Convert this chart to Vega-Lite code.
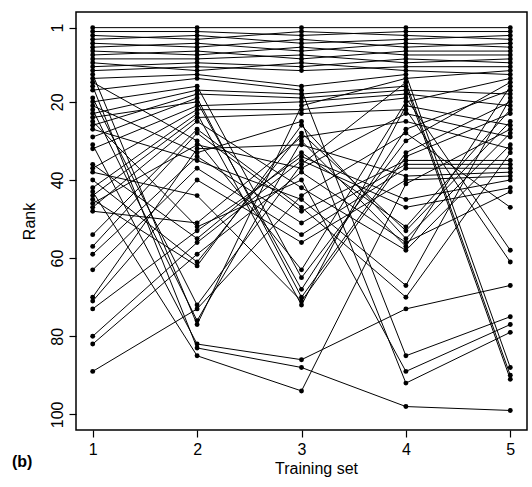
{
  "$schema": "https://vega.github.io/schema/vega-lite/v6.json",
  "width": 451,
  "height": 418,
  "autosize": {"type": "none"},
  "padding": {"left": 76, "top": 12, "right": 5, "bottom": 57},
  "background": "white",
  "config": {
    "view": {"stroke": "black", "strokeWidth": 1.5},
    "font": "Liberation Sans"
  },
  "title": {
    "text": "(b)",
    "orient": "bottom",
    "anchor": "start",
    "frame": "group",
    "fontWeight": "bold",
    "fontSize": 16,
    "font": "Liberation Sans",
    "color": "black",
    "dx": -64,
    "dy": -26
  },
  "data": {
    "values": [
      {"item":1,"set":1,"rank":1},{"item":1,"set":2,"rank":1},{"item":1,"set":3,"rank":1},{"item":1,"set":4,"rank":1},{"item":1,"set":5,"rank":1},
      {"item":2,"set":1,"rank":2},{"item":2,"set":2,"rank":2},{"item":2,"set":3,"rank":3},{"item":2,"set":4,"rank":2},{"item":2,"set":5,"rank":2},
      {"item":3,"set":1,"rank":3},{"item":3,"set":2,"rank":4},{"item":3,"set":3,"rank":2},{"item":3,"set":4,"rank":3},{"item":3,"set":5,"rank":4},
      {"item":4,"set":1,"rank":4},{"item":4,"set":2,"rank":3},{"item":4,"set":3,"rank":5},{"item":4,"set":4,"rank":4},{"item":4,"set":5,"rank":3},
      {"item":5,"set":1,"rank":5},{"item":5,"set":2,"rank":6},{"item":5,"set":3,"rank":4},{"item":5,"set":4,"rank":6},{"item":5,"set":5,"rank":5},
      {"item":6,"set":1,"rank":6},{"item":6,"set":2,"rank":5},{"item":6,"set":3,"rank":7},{"item":6,"set":4,"rank":5},{"item":6,"set":5,"rank":6},
      {"item":7,"set":1,"rank":7},{"item":7,"set":2,"rank":8},{"item":7,"set":3,"rank":6},{"item":7,"set":4,"rank":8},{"item":7,"set":5,"rank":8},
      {"item":8,"set":1,"rank":8},{"item":8,"set":2,"rank":7},{"item":8,"set":3,"rank":9},{"item":8,"set":4,"rank":7},{"item":8,"set":5,"rank":7},
      {"item":9,"set":1,"rank":9},{"item":9,"set":2,"rank":9},{"item":9,"set":3,"rank":8},{"item":9,"set":4,"rank":10},{"item":9,"set":5,"rank":9},
      {"item":10,"set":1,"rank":11},{"item":10,"set":2,"rank":10},{"item":10,"set":3,"rank":11},{"item":10,"set":4,"rank":9},{"item":10,"set":5,"rank":10},
      {"item":11,"set":1,"rank":10},{"item":11,"set":2,"rank":12},{"item":11,"set":3,"rank":10},{"item":11,"set":4,"rank":12},{"item":11,"set":5,"rank":13},
      {"item":12,"set":1,"rank":12},{"item":12,"set":2,"rank":11},{"item":12,"set":3,"rank":12},{"item":12,"set":4,"rank":11},{"item":12,"set":5,"rank":11},
      {"item":13,"set":1,"rank":13},{"item":13,"set":2,"rank":77},{"item":13,"set":3,"rank":21},{"item":13,"set":4,"rank":14},{"item":13,"set":5,"rank":12},
      {"item":14,"set":1,"rank":14},{"item":14,"set":2,"rank":13},{"item":14,"set":3,"rank":16},{"item":14,"set":4,"rank":13},{"item":14,"set":5,"rank":88},
      {"item":15,"set":1,"rank":15},{"item":15,"set":2,"rank":30},{"item":15,"set":3,"rank":63},{"item":15,"set":4,"rank":20},{"item":15,"set":5,"rank":14},
      {"item":16,"set":1,"rank":16},{"item":16,"set":2,"rank":83},{"item":16,"set":3,"rank":88},{"item":16,"set":4,"rank":98},{"item":16,"set":5,"rank":99},
      {"item":17,"set":1,"rank":17},{"item":17,"set":2,"rank":14},{"item":17,"set":3,"rank":17},{"item":17,"set":4,"rank":85},{"item":17,"set":5,"rank":75},
      {"item":18,"set":1,"rank":19},{"item":18,"set":2,"rank":72},{"item":18,"set":3,"rank":36},{"item":18,"set":4,"rank":15},{"item":18,"set":5,"rank":90},
      {"item":19,"set":1,"rank":20},{"item":19,"set":2,"rank":16},{"item":19,"set":3,"rank":65},{"item":19,"set":4,"rank":30},{"item":19,"set":5,"rank":15},
      {"item":20,"set":1,"rank":21},{"item":20,"set":2,"rank":33},{"item":20,"set":3,"rank":25},{"item":20,"set":4,"rank":92},{"item":20,"set":5,"rank":79},
      {"item":21,"set":1,"rank":22},{"item":21,"set":2,"rank":76},{"item":21,"set":3,"rank":30},{"item":21,"set":4,"rank":57},{"item":21,"set":5,"rank":16},
      {"item":22,"set":1,"rank":23},{"item":22,"set":2,"rank":17},{"item":22,"set":3,"rank":18},{"item":22,"set":4,"rank":16},{"item":22,"set":5,"rank":91},
      {"item":23,"set":1,"rank":24},{"item":23,"set":2,"rank":20},{"item":23,"set":3,"rank":68},{"item":23,"set":4,"rank":27},{"item":23,"set":5,"rank":17},
      {"item":24,"set":1,"rank":25},{"item":24,"set":2,"rank":52},{"item":24,"set":3,"rank":40},{"item":24,"set":4,"rank":89},{"item":24,"set":5,"rank":77},
      {"item":25,"set":1,"rank":26},{"item":25,"set":2,"rank":18},{"item":25,"set":3,"rank":19},{"item":25,"set":4,"rank":17},{"item":25,"set":5,"rank":18},
      {"item":26,"set":1,"rank":27},{"item":26,"set":2,"rank":35},{"item":26,"set":3,"rank":45},{"item":26,"set":4,"rank":67},{"item":26,"set":5,"rank":19},
      {"item":27,"set":1,"rank":29},{"item":27,"set":2,"rank":19},{"item":27,"set":3,"rank":70},{"item":27,"set":4,"rank":33},{"item":27,"set":5,"rank":20},
      {"item":28,"set":1,"rank":31},{"item":28,"set":2,"rank":82},{"item":28,"set":3,"rank":86},{"item":28,"set":4,"rank":73},{"item":28,"set":5,"rank":67},
      {"item":29,"set":1,"rank":32},{"item":29,"set":2,"rank":21},{"item":29,"set":3,"rank":20},{"item":29,"set":4,"rank":18},{"item":29,"set":5,"rank":21},
      {"item":30,"set":1,"rank":36},{"item":30,"set":2,"rank":55},{"item":30,"set":3,"rank":33},{"item":30,"set":4,"rank":52},{"item":30,"set":5,"rank":22},
      {"item":31,"set":1,"rank":37},{"item":31,"set":2,"rank":22},{"item":31,"set":3,"rank":22},{"item":31,"set":4,"rank":19},{"item":31,"set":5,"rank":58},
      {"item":32,"set":1,"rank":38},{"item":32,"set":2,"rank":44},{"item":32,"set":3,"rank":71},{"item":32,"set":4,"rank":34},{"item":32,"set":5,"rank":23},
      {"item":33,"set":1,"rank":40},{"item":33,"set":2,"rank":61},{"item":33,"set":3,"rank":28},{"item":33,"set":4,"rank":53},{"item":33,"set":5,"rank":25},
      {"item":34,"set":1,"rank":42},{"item":34,"set":2,"rank":23},{"item":34,"set":3,"rank":72},{"item":34,"set":4,"rank":21},{"item":34,"set":5,"rank":26},
      {"item":35,"set":1,"rank":43},{"item":35,"set":2,"rank":85},{"item":35,"set":3,"rank":94},{"item":35,"set":4,"rank":41},{"item":35,"set":5,"rank":27},
      {"item":36,"set":1,"rank":44},{"item":36,"set":2,"rank":24},{"item":36,"set":3,"rank":23},{"item":36,"set":4,"rank":22},{"item":36,"set":5,"rank":61},
      {"item":37,"set":1,"rank":45},{"item":37,"set":2,"rank":62},{"item":37,"set":3,"rank":26},{"item":37,"set":4,"rank":55},{"item":37,"set":5,"rank":28},
      {"item":38,"set":1,"rank":46},{"item":38,"set":2,"rank":31},{"item":38,"set":3,"rank":37},{"item":38,"set":4,"rank":23},{"item":38,"set":5,"rank":29},
      {"item":39,"set":1,"rank":47},{"item":39,"set":2,"rank":25},{"item":39,"set":3,"rank":42},{"item":39,"set":4,"rank":58},{"item":39,"set":5,"rank":31},
      {"item":40,"set":1,"rank":48},{"item":40,"set":2,"rank":51},{"item":40,"set":3,"rank":29},{"item":40,"set":4,"rank":25},{"item":40,"set":5,"rank":32},
      {"item":41,"set":1,"rank":54},{"item":41,"set":2,"rank":27},{"item":41,"set":3,"rank":47},{"item":41,"set":4,"rank":70},{"item":41,"set":5,"rank":33},
      {"item":42,"set":1,"rank":57},{"item":42,"set":2,"rank":28},{"item":42,"set":3,"rank":48},{"item":42,"set":4,"rank":35},{"item":42,"set":5,"rank":35},
      {"item":43,"set":1,"rank":59},{"item":43,"set":2,"rank":34},{"item":43,"set":3,"rank":51},{"item":43,"set":4,"rank":36},{"item":43,"set":5,"rank":36},
      {"item":44,"set":1,"rank":63},{"item":44,"set":2,"rank":37},{"item":44,"set":3,"rank":54},{"item":44,"set":4,"rank":37},{"item":44,"set":5,"rank":37},
      {"item":45,"set":1,"rank":70},{"item":45,"set":2,"rank":32},{"item":45,"set":3,"rank":31},{"item":45,"set":4,"rank":39},{"item":45,"set":5,"rank":38},
      {"item":46,"set":1,"rank":71},{"item":46,"set":2,"rank":40},{"item":46,"set":3,"rank":56},{"item":46,"set":4,"rank":40},{"item":46,"set":5,"rank":39},
      {"item":47,"set":1,"rank":73},{"item":47,"set":2,"rank":53},{"item":47,"set":3,"rank":34},{"item":47,"set":4,"rank":45},{"item":47,"set":5,"rank":40},
      {"item":48,"set":1,"rank":80},{"item":48,"set":2,"rank":56},{"item":48,"set":3,"rank":35},{"item":48,"set":4,"rank":47},{"item":48,"set":5,"rank":42},
      {"item":49,"set":1,"rank":82},{"item":49,"set":2,"rank":59},{"item":49,"set":3,"rank":38},{"item":49,"set":4,"rank":56},{"item":49,"set":5,"rank":43},
      {"item":50,"set":1,"rank":89},{"item":50,"set":2,"rank":73},{"item":50,"set":3,"rank":44},{"item":50,"set":4,"rank":28},{"item":50,"set":5,"rank":47}
    ]
  },
  "encoding": {
    "x": {
      "field": "set",
      "type": "quantitative",
      "scale": {"domain": [0.84, 5.16], "nice": false, "zero": false},
      "axis": {
        "values": [1, 2, 3, 4, 5],
        "format": "d",
        "grid": false,
        "domain": false,
        "tickColor": "black",
        "tickSize": 7,
        "tickWidth": 1.2,
        "labelFontSize": 16,
        "labelColor": "black",
        "labelFont": "Liberation Sans",
        "labelPadding": 4,
        "title": "Training set",
        "titleFontSize": 16,
        "titleFontWeight": "normal",
        "titleFont": "Liberation Sans",
        "titleColor": "black",
        "titlePadding": 3,
        "titleX": 240
      }
    },
    "y": {
      "field": "rank",
      "type": "quantitative",
      "scale": {"domain": [-3, 104], "reverse": true, "nice": false, "zero": false},
      "axis": {
        "values": [1, 20, 40, 60, 80, 100],
        "grid": false,
        "domain": false,
        "tickColor": "black",
        "tickSize": 7,
        "tickWidth": 1.2,
        "labelFontSize": 16,
        "labelColor": "black",
        "labelFont": "Liberation Sans",
        "labelAngle": -90,
        "labelAlign": "center",
        "labelBaseline": "bottom",
        "labelPadding": 4,
        "title": "Rank",
        "titleFontSize": 16,
        "titleFontWeight": "normal",
        "titleFont": "Liberation Sans",
        "titleColor": "black",
        "titlePadding": 12
      }
    }
  },
  "layer": [
    {
      "mark": {"type": "line", "color": "black", "strokeWidth": 1},
      "encoding": {"detail": {"field": "item", "type": "nominal"}, "order": {"field": "set", "type": "quantitative"}}
    },
    {
      "mark": {"type": "point", "filled": true, "color": "black", "size": 24, "opacity": 1}
    }
  ]
}
